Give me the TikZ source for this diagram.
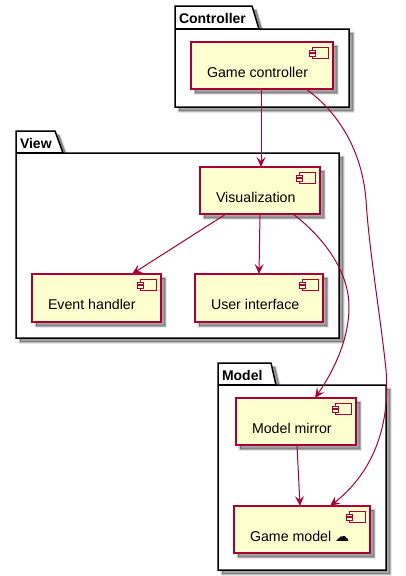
\documentclass[tikz,border=0pt]{standalone}
\usepackage{fontspec}
\setmainfont{Liberation Sans}
\newfontfamily\symfont{DejaVu Sans}
\usetikzlibrary{arrows.meta,calc}
\definecolor{plborder}{HTML}{A80036}
\definecolor{plfill}{HTML}{FEFECE}
\tikzset{
  softshadow/.style={
    preaction={draw=black,fill=black,line width=3.5pt,opacity=.08,transform canvas={xshift=4pt,yshift=-4pt}},
    preaction={draw=black,fill=black,line width=2pt,opacity=.12,transform canvas={xshift=4pt,yshift=-4pt}},
    preaction={draw=black,fill=black,line width=.5pt,opacity=.18,transform canvas={xshift=4pt,yshift=-4pt}}},
  pkg/.style={draw=black,fill=white,line width=1.5pt,line join=miter,softshadow},
  pkgline/.style={draw=black,line width=1.5pt},
  pkgtitle/.style={font=\fontsize{14}{16}\selectfont\bfseries,anchor=base west,inner sep=0pt,outer sep=0pt},
  compbox/.style={rectangle,draw=plborder,fill=plfill,line width=1.5pt,inner sep=0pt,outer sep=0pt,softshadow},
  compicon/.style={draw=plborder,fill=plfill,line width=1pt},
  comptext/.style={font=\fontsize{14.2}{16}\selectfont,anchor=base west,inner sep=0pt,outer sep=0pt},
  link/.style={draw=plborder,line width=1pt,-{Stealth[length=10pt,width=9pt,inset=4pt,fill=plborder]}},
}
% name, left, top, right, bottom, text
\newcommand{\compnode}[6]{%
  \node[compbox,minimum width=#4pt-#2pt,minimum height=#5pt-#3pt] (#1) at ({(#2+#4)/2},{(#3+#5)/2}) {};
  \node[comptext] (#1-t) at (#2+16,#3+35) {#6};
  \draw[compicon] (#4-21,#3+5) rectangle (#4-5,#3+16);
  \draw[compicon] (#4-24,#3+8) rectangle (#4-18,#3+10.5);
  \draw[compicon] (#4-24,#3+11.5) rectangle (#4-18,#3+14);
}
% name, left, tabtop, tabright-top, tabright-bottom, tabbottom, right, bottom, title
\newcommand{\pkgnode}[9]{%
  \path[pkg] (#2,#3) -- (#4,#3) -- (#5,#6) -- (#7,#6) -- (#7,#8) -- (#2,#8) -- cycle;
  \draw[pkgline] (#2,#6) -- (#5,#6);
  \node[pkgtitle] (#1) at (#2+4,#3+17.5) {#9};
}
\begin{document}
\begin{tikzpicture}[x=1pt,y=-1pt]
\useasboundingbox (0,0) rectangle (405,576);
\fill[white] (0,0) rectangle (405,576);
\pkgnode{pc}{175}{6}{252}{259}{29}{349}{107}{Controller}
\pkgnode{pv}{16}{131}{55}{63}{153}{339}{338}{View}
\pkgnode{pm}{218}{363}{271}{276}{385}{386}{570}{Model}
\compnode{gc}{191}{42}{333}{89}{Game controller}
\compnode{vis}{200}{167}{320}{214}{Visualization}
\compnode{eh}{32}{274}{161}{322}{Event handler}
\compnode{ui}{195}{274}{323}{322}{User interface}
\compnode{mm}{236}{398}{356}{445}{Model mirror}
\compnode{gm}{234}{506}{370}{553}{Game model {\symfont\fontsize{14}{14}\selectfont ☁}}
\draw[link] ([xshift=-1pt]gc.south) -- ([xshift=1pt]vis.north);
\draw[link] ([xshift=-34pt]vis.south) -- ([xshift=35.5pt]eh.north);
\draw[link] ([xshift=0pt]vis.south) -- ([xshift=0pt]ui.north);
\draw[link] ([xshift=1pt]mm.south) -- ([xshift=-2pt]gm.north);
\draw[link] ([xshift=33pt]vis.south) .. controls (322,236) and (349,270) .. (349,307) .. controls (349,340) and (333,372) .. ([xshift=19pt]mm.north);
\draw[link] ([xshift=44pt]gc.south) .. controls (338,112) and (362,150) .. (366,200) .. controls (369,250) and (381,320) .. (386,370) .. controls (391,430) and (370,475) .. ([xshift=28pt]gm.north);
\end{tikzpicture}
\end{document}
